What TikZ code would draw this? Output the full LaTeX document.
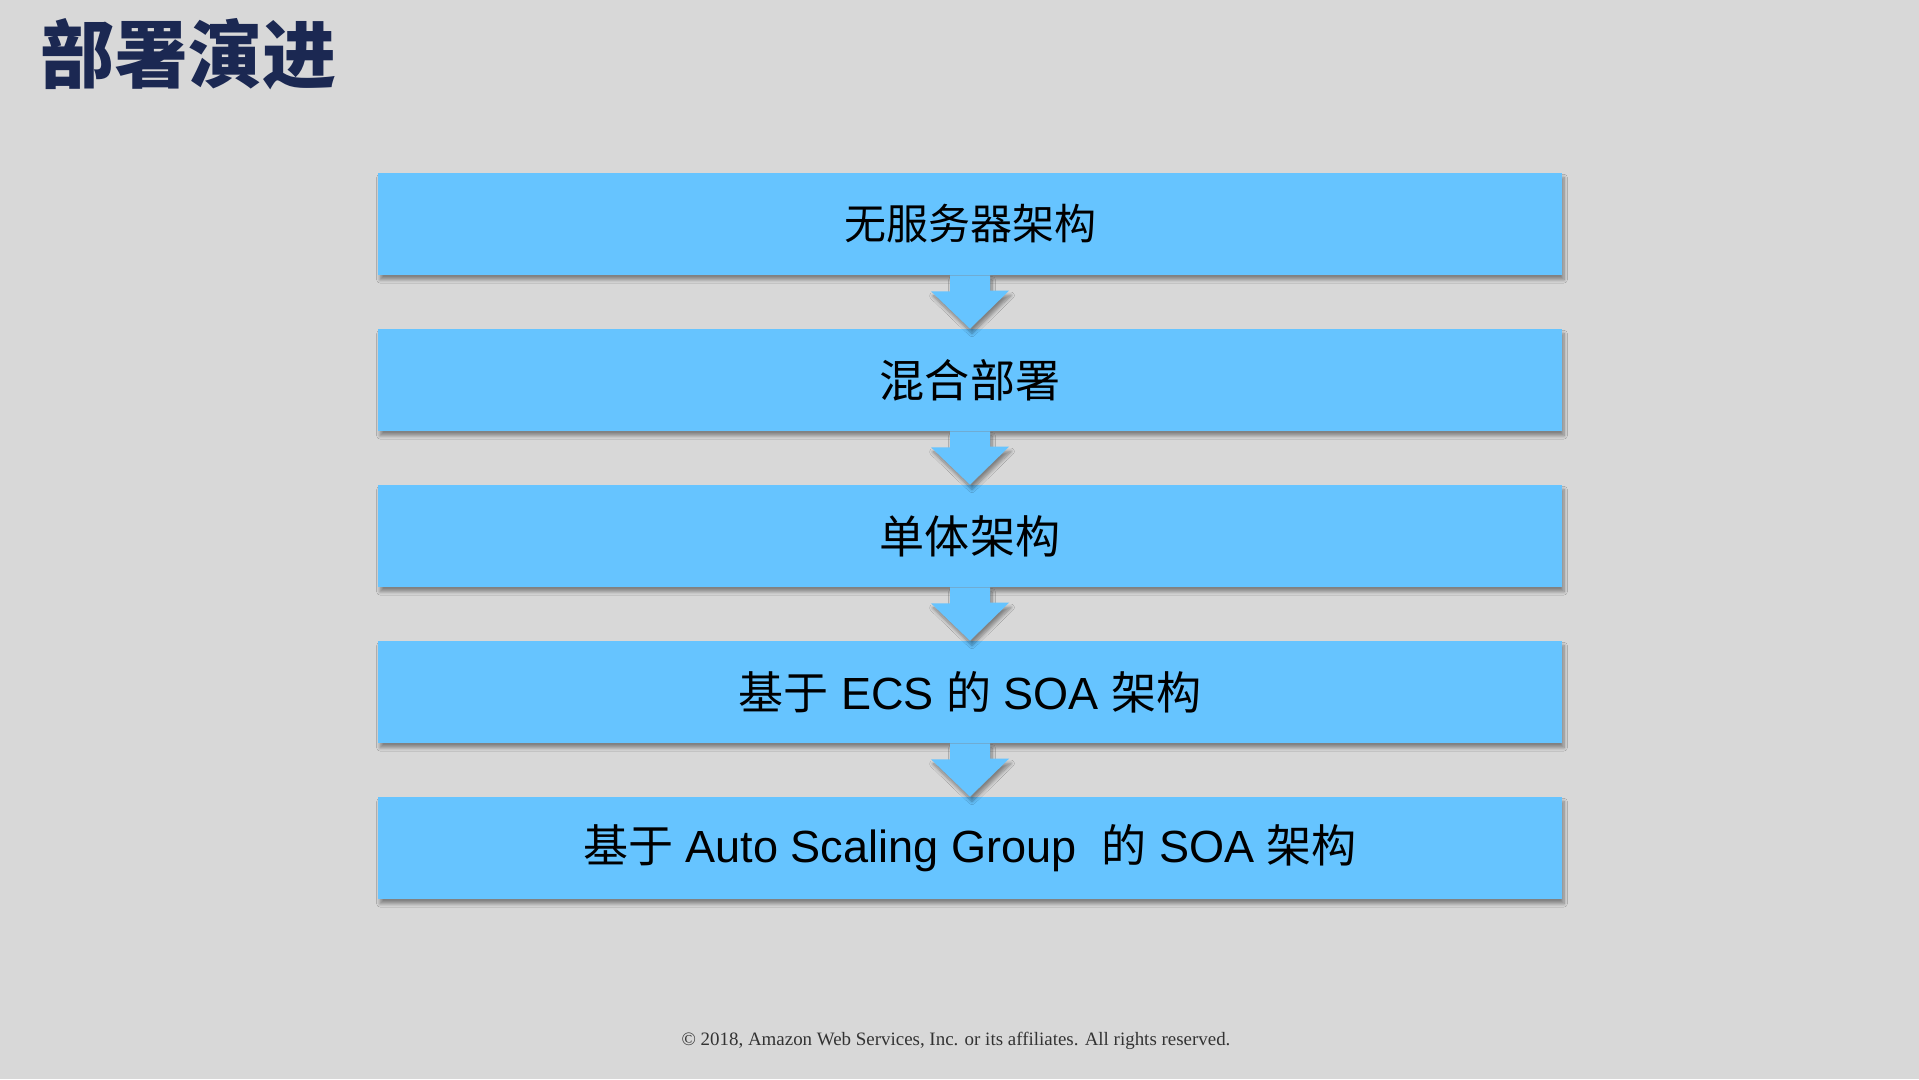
\documentclass[tikz,border=0pt]{standalone}
\usepackage{fontspec}
\setmainfont{Liberation Sans}
\newfontfamily\zh{Noto Sans CJK SC}
\newfontfamily\footfont{Liberation Serif}
\usetikzlibrary{shadows.blur}
\definecolor{boxblue}{RGB}{102,196,255}
\definecolor{slidegray}{RGB}{216,216,216}
\definecolor{titlenavy}{RGB}{27,40,82}
\definecolor{footgray}{RGB}{51,51,51}

\begin{document}
\begin{tikzpicture}[x=0.75pt,y=0.75pt,yscale=-1,xscale=1,
  stageshadow/.style={blur shadow={shadow xshift=1.5pt, shadow yshift=-3.5pt, shadow blur radius=2.5pt, shadow blur steps=8, shadow opacity=40}},
  stagebox/.style={fill=boxblue, stageshadow, minimum width=888pt, minimum height=76.5pt, inner sep=0pt, font=\fontsize{33.8}{38}\selectfont},
  stagearrow/.style={fill=boxblue, stageshadow}]
%uncomment if require: \path (0,1079); %set diagram left start at 0, and has height of 1079

%Background
\fill [slidegray] (0,0) rectangle (1919,1079);

% Text Node
\draw (40,54) node [anchor=west, inner sep=0pt, color=titlenavy, font=\fontsize{55.5}{60}\zh\bfseries] (title) {部署演进};

%Shape: Rectangle
\node [stagebox] (serverless) at (970,224) {\fontsize{31.5}{36}\selectfont\zh 无服务器架构};
%Shape: Rectangle
\node [stagebox] (hybrid) at (970,380) {\zh 混合部署};
%Shape: Rectangle
\node [stagebox] (mono) at (970,536) {\zh 单体架构};
%Shape: Rectangle
\node [stagebox] (ecs) at (970,692) {{\zh 基于} ECS {\zh 的} SOA {\zh 架构}};
%Shape: Rectangle
\node [stagebox] (asg) at (970,848) {{\zh 基于} Auto Scaling Group\ \ {\zh 的} SOA {\zh 架构}};

%Shape: Down Arrow
\fill [stagearrow] (serverless.south) ++(-20,0) -- ++(0,16) -- ++(-19,0) -- (hybrid.north) -- ++(39,-38) -- ++(-19,0) |- (serverless.south) -- cycle;
%Shape: Down Arrow
\fill [stagearrow] (hybrid.south) ++(-20,0) -- ++(0,16) -- ++(-19,0) -- (mono.north) -- ++(39,-38) -- ++(-19,0) |- (hybrid.south) -- cycle;
%Shape: Down Arrow
\fill [stagearrow] (mono.south) ++(-20,0) -- ++(0,16) -- ++(-19,0) -- (ecs.north) -- ++(39,-38) -- ++(-19,0) |- (mono.south) -- cycle;
%Shape: Down Arrow
\fill [stagearrow] (ecs.south) ++(-20,0) -- ++(0,16) -- ++(-19,0) -- (asg.north) -- ++(39,-38) -- ++(-19,0) |- (ecs.south) -- cycle;

% Text Node
\draw (956,1041) node [color=footgray, font=\fontsize{14.2}{17}\footfont] (copyright) {© 2018, Amazon Web Services, Inc. or its affiliates. All rights reserved.};

\end{tikzpicture}
\end{document}
